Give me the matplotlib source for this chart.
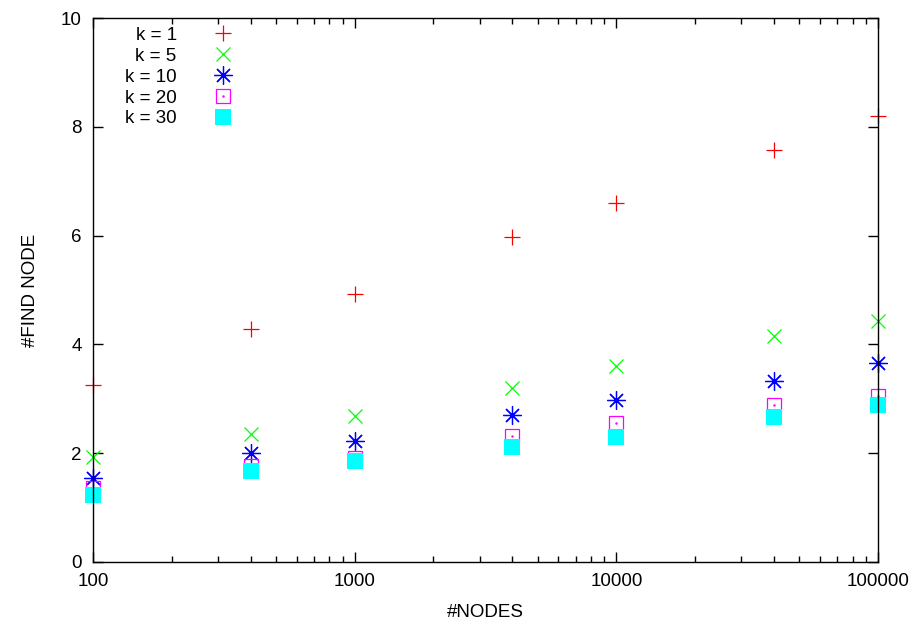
import numpy as np
import matplotlib
matplotlib.use('Agg')
import matplotlib.pyplot as plt
from matplotlib.legend_handler import HandlerTuple

plt.rcParams['font.family'] = ['Liberation Sans', 'DejaVu Sans']

nodes = [100, 400, 1000, 4000, 10000, 40000, 100000]
k1 = [3.25, 4.28, 4.93, 5.97, 6.60, 7.57, 8.20]
k5 = [1.93, 2.36, 2.68, 3.19, 3.60, 4.15, 4.43]
k10 = [1.55, 2.00, 2.23, 2.70, 2.98, 3.32, 3.66]
k20 = [1.36, 1.76, 1.92, 2.32, 2.56, 2.88, 3.06]
k30 = [1.23, 1.67, 1.86, 2.11, 2.30, 2.67, 2.88]
labels = ['k = 1', 'k = 5', 'k = 10', 'k = 20', 'k = 30']

fig = plt.figure(figsize=(9.17, 6.24), dpi=100)
ax = fig.add_axes([0.1014, 0.0994, 0.8561, 0.8716])

ms = 11.5
h1, = ax.plot(nodes, k1, ls='none', marker='+', ms=ms, mew=0.9, color='#ff0000', clip_on=False)
h2, = ax.plot(nodes, k5, ls='none', marker='x', ms=ms * 0.85, mew=0.9, color='#00ff00', clip_on=False)
h3, = ax.plot(nodes, k10, ls='none', marker=(8, 2, 0), ms=ms * 1.15, mew=0.9, color='#0000ff', clip_on=False)
h4, = ax.plot(nodes, k20, ls='none', marker='s', ms=10.5, mew=0.9, mfc='none', mec='#ff00ff', clip_on=False)
h4d, = ax.plot(nodes, k20, ls='none', marker='.', ms=1.5, color='#ff00ff', clip_on=False)
h5, = ax.plot(nodes, k30, ls='none', marker='s', ms=11, mew=0, color='#00ffff', clip_on=False)

ax.set_xscale('log')
ax.set_xlim(100, 100000)
ax.set_ylim(0, 10)
ax.set_yticks(np.arange(0, 11, 2))
ax.set_xticks([100, 1000, 10000, 100000])
ax.set_xticklabels(['100', '1000', '10000', '100000'])

ax.tick_params(which='both', direction='in', top=True, right=True, labelsize=13.5, width=1)
ax.tick_params(which='major', length=7, pad=8)
ax.tick_params(which='minor', length=4)
for s in ax.spines.values():
    s.set_linewidth(1)
    s.set_zorder(3)

ax.set_xlabel('#NODES', fontsize=13.5, labelpad=10)
ax.set_ylabel('#FIND NODE', fontsize=13.5, labelpad=16)

leg = ax.legend([h1, h2, h3, (h4, h4d), h5], labels,
                handler_map={tuple: HandlerTuple(ndivide=1)},
                loc='upper left', bbox_to_anchor=(0.024, 1.008), frameon=False,
                markerfirst=False, fontsize=13.5, handlelength=1.2,
                handletextpad=1.85, labelspacing=0.2, borderaxespad=0.3)

fig.savefig('out.png', dpi=100)
